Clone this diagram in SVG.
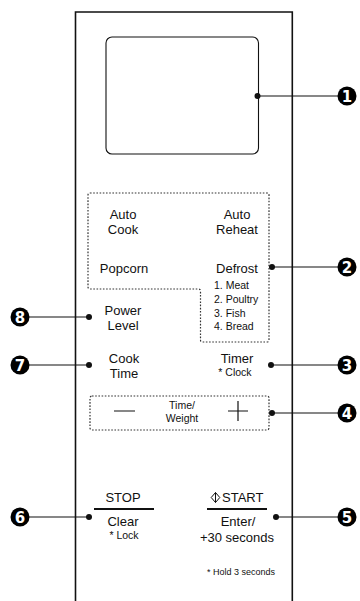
<svg xmlns="http://www.w3.org/2000/svg" width="360" height="601" viewBox="0 0 360 601">
<style>
.t{font-family:"Liberation Sans",Arial,sans-serif;fill:#111;text-anchor:middle}
.m{font-size:13px}
.s{font-size:10.5px}
.xs{font-size:9px}
.ln{stroke:#111;stroke-width:1.2;fill:none}
.dot{fill:#111}
.dash{stroke:#333;stroke-width:1.2;fill:none;stroke-dasharray:1.6 1.6}
.badge circle{fill:#000}
.badge text{font-family:"DejaVu Sans","Liberation Sans",sans-serif;font-weight:bold;font-size:15px;fill:#fff;text-anchor:middle}
</style>
<rect width="360" height="601" fill="#fff"/>
<g id="panel">
<path d="M75.5 606 V12 H292.3 V606" fill="none" stroke="#111" stroke-width="1.6"/>
</g>
<g id="display">
<rect x="106" y="37" width="152.5" height="117" rx="6" fill="none" stroke="#111" stroke-width="1.1"/>
</g>
<g id="group2">
<path class="dash" d="M90 193 H267 Q269 193 269 195 V340 Q269 342 267 342 H202.5 Q200.5 342 200.5 340 V291 Q200.5 289 198.5 289 H90 Q88 289 88 287 V195 Q88 193 90 193 Z"/>
</g>
<g id="autocook"><text class="t m" x="123" y="219">Auto</text><text class="t m" x="123" y="234">Cook</text></g>
<g id="autoreheat"><text class="t m" x="237" y="219">Auto</text><text class="t m" x="237" y="234">Reheat</text></g>
<g id="popcorn"><text class="t m" x="124" y="273">Popcorn</text></g>
<g id="defrost"><text class="t m" x="237" y="273">Defrost</text>
<text class="t s" style="text-anchor:start" x="214" y="289">1. Meat</text>
<text class="t s" style="text-anchor:start" x="214" y="303">2. Poultry</text>
<text class="t s" style="text-anchor:start" x="214" y="316.5">3. Fish</text>
<text class="t s" style="text-anchor:start" x="214" y="330">4. Bread</text></g>
<g id="power"><text class="t m" x="123" y="315">Power</text><text class="t m" x="123" y="330">Level</text></g>
<g id="cooktime"><text class="t m" x="124" y="363">Cook</text><text class="t m" x="124" y="378">Time</text></g>
<g id="timer"><text class="t m" x="237" y="363">Timer</text><text class="t s" x="235" y="376">* Clock</text></g>
<g id="timeweight">
<rect class="dash" x="90" y="396" width="179" height="34" rx="2"/>
<path class="ln" d="M114 411 H135 M228 411 H248 M238 401 V421"/>
<text class="t s" x="182" y="409">Time/</text><text class="t s" x="182" y="422">Weight</text>
</g>
<g id="stop">
<text class="t m" x="123" y="502">STOP</text>
<path d="M94 509 H154" stroke="#111" stroke-width="1.8"/>
<text class="t m" x="123" y="526">Clear</text>
<text class="t s" x="124" y="539">* Lock</text>
</g>
<g id="start">
<path d="M215.5 492.5 L219.8 497.5 L215.5 502.5 L211.2 497.5 Z M215.5 492.5 V502.5" fill="none" stroke="#111" stroke-width="1"/>
<text class="t m" style="text-anchor:start" x="222" y="502">START</text>
<path d="M207 509 H267" stroke="#111" stroke-width="1.8"/>
<text class="t m" x="238" y="526">Enter/</text>
<text class="t m" x="237" y="542">+30 seconds</text>
</g>
<g id="note"><text class="t xs" x="241" y="575">* Hold 3 seconds</text></g>
<g id="connectors">
<path class="ln" d="M257.5 96 H338"/>
<path class="ln" d="M272 267 H338"/>
<path class="ln" d="M271 365 H338"/>
<path class="ln" d="M272 413 H338"/>
<path class="ln" d="M276 517 H338"/>
<path class="ln" d="M89 517 H29"/>
<path class="ln" d="M89 365 H29"/>
<path class="ln" d="M89 317 H29"/>
<circle class="dot" cx="257.5" cy="96" r="3"/>
<circle class="dot" cx="272" cy="267" r="3"/>
<circle class="dot" cx="271" cy="365" r="3"/>
<circle class="dot" cx="272" cy="413" r="3"/>
<circle class="dot" cx="276" cy="517" r="3"/>
<circle class="dot" cx="89" cy="517" r="3"/>
<circle class="dot" cx="89" cy="365" r="3"/>
<circle class="dot" cx="89" cy="317" r="3"/>
</g>
<g id="b1" class="badge"><circle cx="347" cy="96" r="9.5"/><text x="347" y="101.5">1</text></g>
<g id="b2" class="badge"><circle cx="347" cy="267" r="9.5"/><text x="347" y="272.5">2</text></g>
<g id="b3" class="badge"><circle cx="347" cy="365" r="9.5"/><text x="347" y="370.5">3</text></g>
<g id="b4" class="badge"><circle cx="347" cy="413" r="9.5"/><text x="347" y="418.5">4</text></g>
<g id="b5" class="badge"><circle cx="347" cy="517" r="9.5"/><text x="347" y="522.5">5</text></g>
<g id="b6" class="badge"><circle cx="20" cy="517" r="9.5"/><text x="20" y="522.5">6</text></g>
<g id="b7" class="badge"><circle cx="20" cy="365" r="9.5"/><text x="20" y="370.5">7</text></g>
<g id="b8" class="badge"><circle cx="20" cy="317" r="9.5"/><text x="20" y="322.5">8</text></g>
</svg>
